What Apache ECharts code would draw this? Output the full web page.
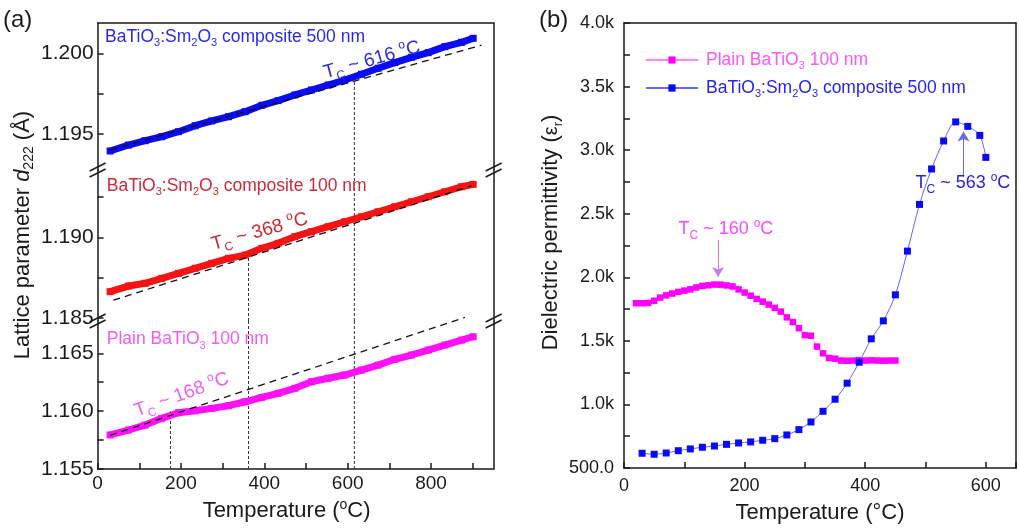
<!DOCTYPE html>
<html>
<head>
<meta charset="utf-8">
<script src="https://cdn.jsdelivr.net/npm/echarts@6/dist/echarts.min.js"></script>
<style>
html,body{margin:0;padding:0;background:#fff;}
#chart{width:1019px;height:530px;}
</style>
</head>
<body>
<div id="chart"></div>
<script>
const FONT = "'Liberation Sans', Arial, Helvetica, sans-serif";

// (a) lattice parameter d222 versus temperature
const latticeTemps = [30, 74, 114, 154, 194, 234, 274, 314, 354, 394, 433, 473, 513, 553, 593, 633, 673, 713, 753, 793, 833, 873, 901];
const composite500 = [1.19393, 1.19430, 1.19457, 1.19482, 1.19513, 1.19550, 1.19580, 1.19606, 1.19637, 1.19677, 1.19706, 1.19741, 1.19772, 1.19803, 1.19834, 1.19870, 1.19907, 1.19942, 1.19975, 1.20004, 1.20041, 1.20068, 1.20093];
const composite100 = [1.18663, 1.18698, 1.18715, 1.18746, 1.18777, 1.18808, 1.18839, 1.18870, 1.18890, 1.18932, 1.18963, 1.19004, 1.19035, 1.19066, 1.19097, 1.19128, 1.19159, 1.19190, 1.19221, 1.19252, 1.19283, 1.19314, 1.19329];
const plain100 = [1.15794, 1.15837, 1.15880, 1.15938, 1.15986, 1.16004, 1.16024, 1.16047, 1.16081, 1.16119, 1.16154, 1.16197, 1.16254, 1.16284, 1.16312, 1.16355, 1.16398, 1.16448, 1.16485, 1.16528, 1.16571, 1.16614, 1.16643];

// dashed linear references
const fit500 = [[30, 1.1940], [921, 1.2005]];
const fit100 = [[38, 1.1861], [897, 1.1932]];
const fitPlain = [[30, 1.1579], [881, 1.1681]];

// Curie temperature guides: [T, d222 where the guide stops]
const tcPlain = [175, 1.1600];
const tc100 = [362, 1.1888];
const tc500 = [616, 1.1983];

// broken y axis: three stacked ranges
const rangeTop = [1.19275, 1.20188];
const rangeMid = [1.18481, 1.19418];
const rangeBot = [1.155, 1.16779];
const labelsTop = [1.195, 1.200];
const ticksTop = [1.195, 1.1975, 1.200];
const labelsMid = [1.185, 1.190];
const ticksMid = [1.185, 1.1875, 1.190, 1.1925];
const labelsBot = [1.155, 1.160, 1.165];
const ticksBot = [1.155, 1.1575, 1.160, 1.1625, 1.165];
const latticeTempLabels = [0, 200, 400, 600, 800];
const latticeTempTicks = [0, 100, 200, 300, 400, 500, 600, 700, 800, 900];

// (b) dielectric permittivity versus temperature
const permTempsPlain = [20, 30, 40, 50, 60, 70, 80, 90, 100, 110, 120, 130, 140, 150, 160, 170, 180, 190, 200, 210, 220, 230, 240, 250, 260, 270, 280, 290, 300, 310, 320, 330, 340, 350, 360, 370, 380, 390, 400, 410, 420, 430, 440, 450];
const permPlain = [1796, 1796, 1798, 1815, 1840, 1858, 1872, 1885, 1895, 1905, 1920, 1932, 1937, 1943, 1942, 1936, 1928, 1905, 1880, 1855, 1830, 1808, 1785, 1760, 1730, 1685, 1648, 1600, 1545, 1540, 1455, 1402, 1365, 1360, 1345, 1343, 1345, 1348, 1345, 1347, 1345, 1344, 1345, 1345];
const permTempsComp = [30, 50, 70, 90, 110, 130, 150, 170, 190, 210, 230, 250, 270, 290, 310, 330, 350, 370, 390, 410, 430, 450, 470, 490, 510, 530, 550, 570, 590, 600];
const permComp = [616, 608, 618, 636, 650, 663, 673, 686, 697, 705, 718, 731, 760, 802, 862, 946, 1041, 1167, 1332, 1516, 1657, 1862, 2206, 2573, 2852, 3072, 3222, 3187, 3116, 2943];
const tcArrowPlain = [[156, 2294], [156, 2003]];
const tcArrowComp = [[563, 2790], [563, 3146]];

const NAME_PLAIN = 'Plain BaTiO3 100 nm';
const NAME_COMP = 'BaTiO3:Sm2O3 composite 500 nm';

// layout
const PA = { left: 97.6, width: 396 };
const ROWS = [{ top: 23, height: 147 }, { top: 170, height: 151 }, { top: 321, height: 148 }];
const PB = { left: 624, width: 394, top: 23, height: 445 };
const AX = '#1a1a1a';
const C_BLUE = '#0c0cf2', C_RED = '#f41414', C_MAG = '#ff10f5';

// rich styles for free text (zrender text uses "fill" for colour)
function richSet(color, size) {
  return {
    t: { fill: color, fontSize: size, fontFamily: FONT, lineHeight: size + 6 },
    s: { fill: color, fontSize: Math.round(size * 0.64), fontFamily: FONT, verticalAlign: 'bottom' },
    u: { fill: color, fontSize: Math.round(size * 0.64), fontFamily: FONT, verticalAlign: 'top' }
  };
}

function frameAxis(gridIndex, position, range) {
  return {
    type: 'value', gridIndex, position, min: range[0], max: range[1],
    axisLine: { show: true, onZero: false, lineStyle: { color: AX, width: 1.5 } },
    axisTick: { show: false }, axisLabel: { show: false }, splitLine: { show: false }
  };
}

function segAxis(gridIndex, range, labels, ticks, extra) {
  return Object.assign({
    type: 'value', gridIndex, position: 'left', min: range[0], max: range[1],
    axisLine: { show: true, onZero: false, lineStyle: { color: AX, width: 1.5 } },
    axisTick: { show: true, inside: true, length: 6, customValues: ticks, lineStyle: { color: AX, width: 1.5 } },
    axisLabel: { show: true, customValues: labels, margin: 4, fontSize: 21, color: AX, fontFamily: FONT, formatter: v => v.toFixed(3) },
    splitLine: { show: false }
  }, extra || {});
}

const pairs = (xs, ys) => xs.map((x, i) => [x, ys[i]]);

function bandSeries(name, ys, xi, yi, color) {
  return {
    type: 'line', name, xAxisIndex: xi, yAxisIndex: yi, data: pairs(latticeTemps, ys),
    symbol: 'rect', symbolSize: 7, lineStyle: { color, width: 7, cap: 'butt' },
    itemStyle: { color }, z: 3, silent: true
  };
}
function fitSeries(data, xi, yi) {
  return {
    type: 'line', xAxisIndex: xi, yAxisIndex: yi, data, symbol: 'none', clip: false,
    lineStyle: { color: '#111', width: 1.3, type: [7, 5] }, z: 4, silent: true
  };
}
function guideSeries(x, y0, y1, xi, yi) {
  return {
    type: 'line', xAxisIndex: xi, yAxisIndex: yi, data: [[x, y0], [x, y1]], symbol: 'none',
    lineStyle: { color: '#333', width: 1, type: [3, 2] }, z: 2, silent: true
  };
}

const option = {
  animation: false,
  textStyle: { fontFamily: FONT },
  grid: [
    { left: PA.left, width: PA.width, top: ROWS[0].top, height: ROWS[0].height },
    { left: PA.left, width: PA.width, top: ROWS[1].top, height: ROWS[1].height },
    { left: PA.left, width: PA.width, top: ROWS[2].top, height: ROWS[2].height },
    { left: PB.left, width: PB.width, top: PB.top, height: PB.height }
  ],
  xAxis: [
    frameAxis(0, 'top', [0, 950]),
    Object.assign(frameAxis(1, 'bottom', [0, 950]), { show: false }),
    {
      type: 'value', gridIndex: 2, position: 'bottom', min: 0, max: 950,
      axisLine: { show: true, onZero: false, lineStyle: { color: AX, width: 1.5 } },
      axisTick: { show: true, inside: true, length: 6, customValues: latticeTempTicks, lineStyle: { color: AX, width: 1.5 } },
      axisLabel: { customValues: latticeTempLabels, margin: 5, fontSize: 19, color: AX, fontFamily: FONT },
      splitLine: { show: false },
      name: 'Temperature ({sup|o}C)', nameLocation: 'middle', nameGap: 29,
      nameTextStyle: { fontSize: 22, color: AX, fontFamily: FONT, lineHeight: 26, padding: [0, 18, 0, 0],
        rich: { sup: { fontSize: 14, color: AX, fontFamily: FONT, verticalAlign: 'top' } } }
    },
    {
      type: 'value', gridIndex: 3, position: 'bottom', min: 0, max: 650, interval: 100,
      axisLine: { show: true, onZero: false, lineStyle: { color: AX, width: 1.5 } },
      axisTick: { show: true, inside: true, length: 6, lineStyle: { color: AX, width: 1.5 } },
      axisLabel: { margin: 9, fontSize: 18, color: AX, fontFamily: FONT,
        formatter: v => (v % 200 === 0 && v <= 600) ? String(v) : '' },
      splitLine: { show: false },
      name: 'Temperature (°C)', nameLocation: 'middle', nameGap: 34,
      nameTextStyle: { fontSize: 22, color: AX, fontFamily: FONT }
    },
    frameAxis(3, 'top', [0, 650])
  ],
  yAxis: [
    segAxis(0, rangeTop, labelsTop, ticksTop),
    frameAxis(0, 'right', rangeTop),
    segAxis(1, rangeMid, labelsMid, ticksMid, {
      name: 'Lattice parameter {it|d}{sub|222} (Å)', nameLocation: 'middle', nameRotate: 90, nameGap: 61,
      nameTextStyle: { fontSize: 22, color: AX, fontFamily: FONT, lineHeight: 28, padding: [0, 0, 0, 21],
        rich: { it: { fontSize: 22, fontStyle: 'italic', color: AX, fontFamily: FONT },
                sub: { fontSize: 14, color: AX, fontFamily: FONT, verticalAlign: 'bottom' } } }
    }),
    frameAxis(1, 'right', rangeMid),
    segAxis(2, rangeBot, labelsBot, ticksBot),
    frameAxis(2, 'right', rangeBot),
    {
      type: 'value', gridIndex: 3, position: 'left', min: 500, max: 4000, interval: 250,
      axisLine: { show: true, onZero: false, lineStyle: { color: AX, width: 1.5 } },
      axisTick: { show: true, inside: true, length: 6, lineStyle: { color: AX, width: 1.5 } },
      axisLabel: { margin: 10, fontSize: 18, color: AX, fontFamily: FONT,
        formatter: v => v % 500 !== 0 ? '' : (v === 500 ? '500.0' : (v / 1000).toFixed(1) + 'k') },
      splitLine: { show: false },
      name: 'Dielectric permittivity ({eps|ε}{sub|r})', nameLocation: 'middle', nameRotate: 90, nameGap: 55,
      nameTextStyle: { fontSize: 22, color: AX, fontFamily: FONT, lineHeight: 28, padding: [0, 0, 0, 26],
        rich: { eps: { fontSize: 20, color: AX, fontFamily: FONT },
                sub: { fontSize: 13, color: AX, fontFamily: FONT, verticalAlign: 'bottom' } } }
    },
    frameAxis(3, 'right', [500, 4000])
  ],
  legend: {
    data: [NAME_PLAIN, NAME_COMP], orient: 'vertical', left: 640, top: 46,
    itemWidth: 52, itemHeight: 9, itemGap: 8, selectedMode: false,
    formatter: n => n === NAME_PLAIN
      ? '{p|Plain BaTiO}{ps|3}{p| 100 nm}'
      : '{b|BaTiO}{bs|3}{b|:Sm}{bs|2}{b|O}{bs|3}{b| composite 500 nm}',
    textStyle: { fontFamily: FONT, fontSize: 17.5, padding: [0, 0, 0, 3],
      rich: {
        p: { color: '#ff55ff', fontSize: 17.5, fontFamily: FONT, lineHeight: 22 },
        ps: { color: '#ff55ff', fontSize: 11, fontFamily: FONT, verticalAlign: 'bottom' },
        b: { color: '#2626e8', fontSize: 17.5, fontFamily: FONT, lineHeight: 22 },
        bs: { color: '#2626e8', fontSize: 11, fontFamily: FONT, verticalAlign: 'bottom' }
      } }
  },
  series: [
    // guides under everything
    guideSeries(tc500[0], rangeTop[0], tc500[1], 0, 0),
    guideSeries(tc500[0], rangeMid[0], rangeMid[1], 1, 2),
    guideSeries(tc100[0], rangeMid[0], tc100[1], 1, 2),
    guideSeries(tc500[0], rangeBot[0], rangeBot[1], 2, 4),
    guideSeries(tc100[0], rangeBot[0], rangeBot[1], 2, 4),
    guideSeries(tcPlain[0], rangeBot[0], tcPlain[1], 2, 4),
    bandSeries('composite 500 nm', composite500, 0, 0, C_BLUE),
    bandSeries('composite 100 nm', composite100, 1, 2, C_RED),
    bandSeries('plain 100 nm', plain100, 2, 4, C_MAG),
    fitSeries(fit500, 0, 0),
    fitSeries(fit100, 1, 2),
    fitSeries(fitPlain, 2, 4),
    {
      type: 'line', name: NAME_PLAIN, xAxisIndex: 3, yAxisIndex: 6, data: pairs(permTempsPlain, permPlain),
      symbol: 'rect', symbolSize: 6.5, itemStyle: { color: '#ff00ff' }, lineStyle: { color: '#ff88ff', width: 1 }, z: 3,
      markLine: { silent: true, symbol: ['none', 'arrow'], symbolSize: [9, 10], label: { show: false },
        lineStyle: { color: '#c77cf0', width: 1, type: 'solid' },
        data: [[{ coord: tcArrowPlain[0] }, { coord: tcArrowPlain[1] }]] }
    },
    {
      type: 'line', name: NAME_COMP, xAxisIndex: 3, yAxisIndex: 6, data: pairs(permTempsComp, permComp),
      symbol: 'rect', symbolSize: 7, smooth: 0.3, itemStyle: { color: '#0a0af5' }, lineStyle: { color: '#6464ff', width: 1 }, z: 4,
      markLine: { silent: true, symbol: ['none', 'arrow'], symbolSize: [9, 10], label: { show: false },
        lineStyle: { color: '#6a6ae8', width: 1, type: 'solid' },
        data: [[{ coord: tcArrowComp[0] }, { coord: tcArrowComp[1] }]] }
    }
  ]
};

const chart = echarts.init(document.getElementById('chart'), null, { renderer: 'canvas' });
chart.setOption(option);

// text annotations anchored to data coordinates
function note(gridIndex, coord, text, color, size, align, rotDeg) {
  const p = chart.convertToPixel({ gridIndex }, coord);
  return {
    type: 'text', x: p[0], y: p[1], rotation: (rotDeg || 0) * Math.PI / 180, silent: true, z: 20,
    style: { text, fill: color, rich: richSet(color, size), align, verticalAlign: 'middle' }
  };
}

// axis break marks
function breakMarks() {
  const out = [];
  const ys = [ROWS[1].top, ROWS[2].top];
  const xs = [PA.left, PA.left + PA.width];
  ys.forEach(y => xs.forEach(x => {
    [-3, 3].forEach(d => out.push({
      type: 'line', silent: true, z: 30,
      shape: { x1: x - 8, y1: y + d + 4, x2: x + 8, y2: y + d - 4 },
      style: { stroke: AX, lineWidth: 1.4 }
    }));
  }));
  return out;
}

const tcText = v => '{t|T}{s|C}{t| ~ ' + v + ' }{u|o}{t|C}';

chart.setOption({
  graphic: [
    { type: 'text', x: 3, y: 20, silent: true, style: { text: '(a)', fill: AX, fontSize: 24, fontFamily: FONT, verticalAlign: 'middle' } },
    { type: 'text', x: 539, y: 20, silent: true, style: { text: '(b)', fill: AX, fontSize: 24, fontFamily: FONT, verticalAlign: 'middle' } },
    note(0, [18, 1.20103], '{t|BaTiO}{s|3}{t|:Sm}{s|2}{t|O}{s|3}{t| composite 500 nm}', '#2a2ae2', 17.5, 'left'),
    note(1, [22, 1.19318], '{t|BaTiO}{s|3}{t|:Sm}{s|2}{t|O}{s|3}{t| composite 100 nm}', '#cc2a3a', 17.5, 'left'),
    note(2, [22, 1.16621], '{t|Plain BaTiO}{s|3}{t| 100 nm}', '#f25cf2', 17.5, 'left'),
    note(0, [658, 1.19958], tcText('616'), '#2a2ae2', 19, 'center', 15.5),
    note(1, [389, 1.19035], tcText('368'), '#c42a36', 19, 'center', 15.5),
    note(2, [202, 1.16140], tcText('168'), '#f060f0', 19, 'center', 20),
    note(3, [169, 2378], tcText('160'), '#ff48ff', 18, 'center'),
    note(3, [562, 2740], tcText('563'), '#2424e0', 18, 'center')
  ].concat(breakMarks())
});
</script>
</body>
</html>
